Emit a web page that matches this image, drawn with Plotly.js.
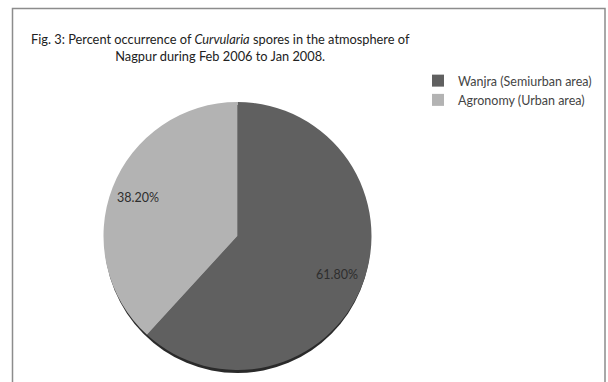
<!DOCTYPE html>
<html>
<head>
<meta charset="utf-8">
<script src="https://cdn.plot.ly/plotly-3.0.1.min.js"></script>
<style>
html,body{margin:0;padding:0;background:#fff;}
#chart{width:608px;height:382px;}
</style>
</head>
<body>
<div id="chart"></div>
<script>
// Data
var sites = ["Wanjra (Semiurban area)", "Agronomy (Urban area)"];
var percents = [61.8, 38.2];
var sliceColors = ["#606060", "#b3b3b3"];
var titleLine1 = "Fig. 3: Percent occurrence of <i>Curvularia</i> spores in the atmosphere of";
var titleLine2 = "Nagpur during Feb 2006 to Jan 2008.";

var W = 608, H = 382;
function px(x){return x / W;}
function py(y){return 1 - y / H;}

var cx = 237.5, cy = 236, r = 134;
var FONT = "Lato, 'Open Sans', sans-serif";

var trace = {
  type: "pie",
  labels: sites,
  values: percents,
  sort: false,
  direction: "clockwise",
  rotation: 0,
  marker: {colors: sliceColors, line: {width: 0}},
  textinfo: "none",
  hoverinfo: "label+percent",
  domain: {x: [px(cx - r), px(cx + r)], y: [py(cy + r), py(cy - r)]}
};

// slice labels placed at 0.8 of the radius, at each slice's mid-angle (derived from the data)
var total = percents.reduce(function(a, b){return a + b;}, 0);
var annotations = [];
var acc = 0;
percents.forEach(function(v){
  var mid = (acc + v / 2) / total * 2 * Math.PI; // clockwise from 12 o'clock
  acc += v;
  var lx = cx + 0.8 * r * Math.sin(mid);
  var ly = cy - 0.8 * r * Math.cos(mid);
  annotations.push({
    xref: "paper", yref: "paper", x: px(lx), y: py(ly),
    xanchor: "center", yanchor: "middle", showarrow: false,
    text: v.toFixed(2) + "%",
    font: {family: FONT, size: 12.5, color: "#2e2e2e"}
  });
});

// title as a centered two-line annotation
annotations.push({
  xref: "paper", yref: "paper", x: px(220), y: py(29),
  xanchor: "center", yanchor: "top", align: "center", showarrow: false,
  text: titleLine1 + "<br>" + titleLine2,
  font: {family: FONT, size: 12.8, color: "#222222"}
});

var layout = {
  width: W, height: H,
  margin: {l: 0, r: 0, t: 0, b: 0},
  paper_bgcolor: "#ffffff",
  showlegend: true,
  font: {family: FONT, color: "#333333"},
  legend: {
    x: px(418), xanchor: "left",
    y: py(66), yanchor: "top",
    font: {family: FONT, size: 12.5, color: "#444444"},
    bgcolor: "rgba(0,0,0,0)",
    itemwidth: 30
  },
  annotations: annotations,
  shapes: [
    {type: "path", xref: "paper", yref: "paper", layer: "above",
     path: "M " + px(12.5) + "," + py(400) + " L " + px(12.5) + "," + py(8.5) + " L " + px(605) + "," + py(8.5) + " L " + px(605) + "," + py(400),
     line: {color: "#8c8c8c", width: 1.5}},
    {type: "circle", xref: "paper", yref: "paper", layer: "below",
     x0: px(cx - r + 1), x1: px(cx + r - 1), y0: py(cy + r + 3), y1: py(cy - r + 3),
     fillcolor: "#2a2a2a", line: {width: 0}}
  ]
};

Plotly.newPlot("chart", [trace], layout, {displayModeBar: false, staticPlot: true});
</script>
</body>
</html>
